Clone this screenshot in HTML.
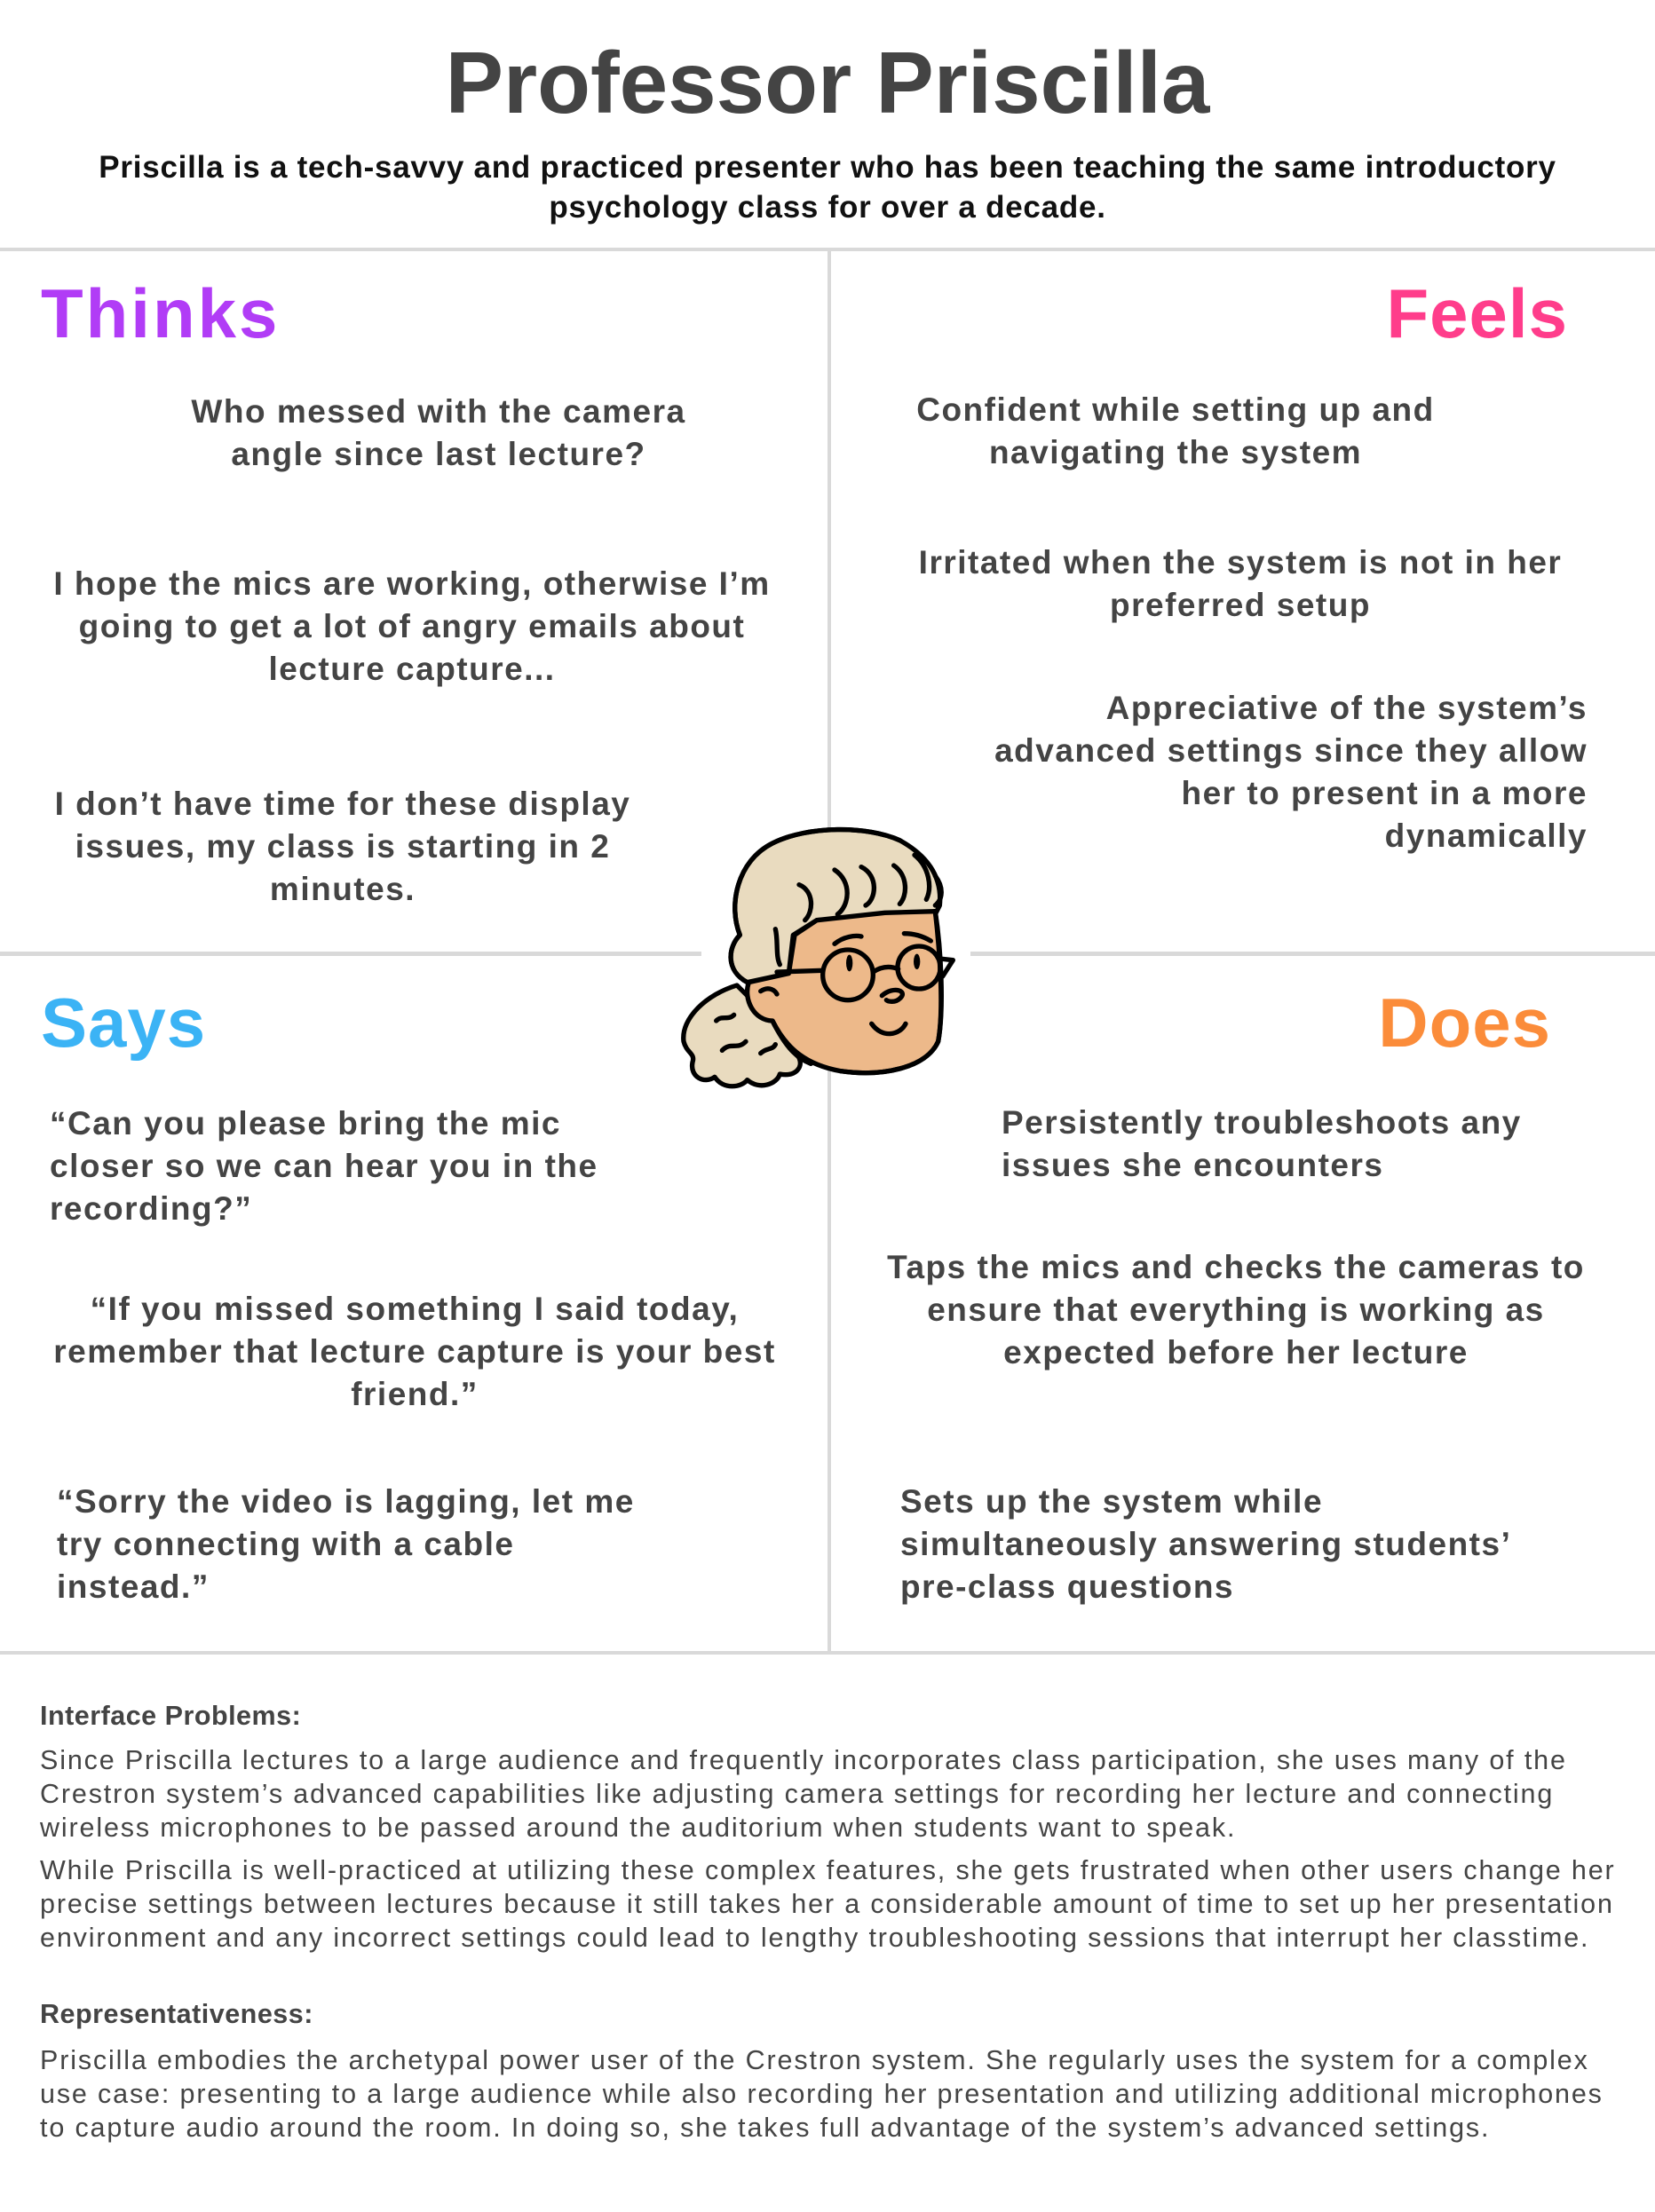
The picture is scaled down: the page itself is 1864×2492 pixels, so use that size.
<!DOCTYPE html>
<html><head><meta charset="utf-8"><style>
html,body{margin:0;padding:0;background:#fff;}
body{width:1864px;height:2492px;position:relative;overflow:hidden;font-family:"Liberation Sans",sans-serif;color:#444;}
.a{position:absolute;white-space:nowrap;}
.t{font-weight:bold;font-size:37px;line-height:48px;color:#444;letter-spacing:1.5px;}
.c{text-align:center;transform:translateX(-50%);}
.r{text-align:right;transform:translateX(-100%);}
.h{font-weight:bold;font-size:78px;line-height:90px;letter-spacing:1px;}
.ln{position:absolute;background:#d9d9d9;}
.p{font-size:30.5px;line-height:38px;color:#444;left:45px;letter-spacing:1.85px;}
</style></head><body>
<div class="a c" style="left:932px;top:38px;font-size:98px;line-height:110px;font-weight:bold;color:#444;">Professor Priscilla</div>
<div class="a c" style="left:932px;top:166px;font-size:35px;line-height:45px;font-weight:bold;color:#111;letter-spacing:0.75px;">Priscilla is a tech-savvy and practiced presenter who has been teaching the same introductory<br>psychology class for over a decade.</div>

<div class="ln" style="left:0;top:279px;width:1864px;height:4px;"></div>
<div class="ln" style="left:932px;top:281px;width:4px;height:1582px;"></div>
<div class="ln" style="left:0;top:1072px;width:790px;height:5px;"></div>
<div class="ln" style="left:1093px;top:1072px;width:771px;height:5px;"></div>
<div class="ln" style="left:0;top:1860px;width:1864px;height:4px;"></div>

<div class="a h" style="left:46px;top:308px;color:#b13cf6;letter-spacing:3px;">Thinks</div>
<div class="a h r" style="left:1766px;top:308px;color:#ff3d8b;">Feels</div>
<div class="a h" style="left:46px;top:1107px;color:#3bb3f5;">Says</div>
<div class="a h r" style="left:1747px;top:1107px;color:#fb8c3a;">Does</div>

<div class="a t c" style="left:494px;top:440px;">Who messed with the camera<br>angle since last lecture?</div>
<div class="a t c" style="left:464px;top:634px;">I hope the mics are working, otherwise I’m<br>going to get a lot of angry emails about<br>lecture capture...</div>
<div class="a t c" style="left:386px;top:882px;">I don’t have time for these display<br>issues, my class is starting in 2<br>minutes.</div>

<div class="a t c" style="left:1324px;top:438px;">Confident while setting up and<br>navigating the system</div>
<div class="a t c" style="left:1397px;top:610px;">Irritated when the system is not in her<br>preferred setup</div>
<div class="a t r" style="left:1788px;top:774px;">Appreciative of the system’s<br>advanced settings since they allow<br>her to present in a more<br>dynamically</div>

<div class="a t" style="left:56px;top:1242px;">“Can you please bring the mic<br>closer so we can hear you in the<br>recording?”</div>
<div class="a t c" style="left:467px;top:1451px;">“If you missed something I said today,<br>remember that lecture capture is your best<br>friend.”</div>
<div class="a t" style="left:64px;top:1668px;">“Sorry the video is lagging, let me<br>try connecting with a cable<br>instead.”</div>

<div class="a t" style="left:1128px;top:1241px;">Persistently troubleshoots any<br>issues she encounters</div>
<div class="a t c" style="left:1392px;top:1404px;">Taps the mics and checks the cameras to<br>ensure that everything is working as<br>expected before her lecture</div>
<div class="a t" style="left:1014px;top:1668px;">Sets up the system while<br>simultaneously answering students’<br>pre-class questions</div>

<div class="a p" style="top:1914px;font-weight:bold;letter-spacing:0.5px;">Interface Problems:</div>
<div class="a p" style="top:1964px;">Since Priscilla lectures to a large audience and frequently incorporates class participation, she uses many of the<br>Crestron system’s advanced capabilities like adjusting camera settings for recording her lecture and connecting<br>wireless microphones to be passed around the auditorium when students want to speak.</div>
<div class="a p" style="top:2088px;">While Priscilla is well-practiced at utilizing these complex features, she gets frustrated when other users change her<br>precise settings between lectures because it still takes her a considerable amount of time to set up her presentation<br>environment and any incorrect settings could lead to lengthy troubleshooting sessions that interrupt her classtime.</div>
<div class="a p" style="top:2250px;font-weight:bold;letter-spacing:0.5px;">Representativeness:</div>
<div class="a p" style="top:2302px;">Priscilla embodies the archetypal power user of the Crestron system. She regularly uses the system for a complex<br>use case: presenting to a large audience while also recording her presentation and utilizing additional microphones<br>to capture audio around the room. In doing so, she takes full advantage of the system’s advanced settings.</div>

<svg style="position:absolute;left:760px;top:920px;" width="340" height="320" viewBox="0 0 1020 960">
<g stroke="#000" stroke-width="16" stroke-linecap="round" stroke-linejoin="round">
<path d="M210,570 C110,600 20,680 30,760 C40,800 70,800 60,830 C50,880 100,905 135,880 C165,925 225,915 245,890 C285,925 345,905 355,870 C405,880 435,850 420,815 L330,690 Z" fill="#e9dbbf"/>
<path d="M245,560 C170,520 180,440 220,400 C180,300 210,150 330,90 C450,30 650,30 760,80 C850,130 905,200 895,300 L880,330 L480,350 L400,400 L385,530 Z" fill="#e9dbbf"/>
<path d="M250,560 C230,620 270,690 330,690 C380,790 450,840 560,860 C700,880 850,850 890,760 C910,650 895,450 880,320 L710,325 L480,350 L405,400 L385,530 Z" fill="#edb98a"/>
<path d="M880,320 C900,450 910,650 890,760 C850,850 700,880 560,860" fill="none"/>
<path d="M330,690 C380,790 420,820 460,835" fill="none"/>
<path d="M245,560 C170,520 180,440 220,400 C180,300 210,150 330,90 C450,30 650,30 760,80" fill="none"/>
<path d="M340,380 C350,420 340,470 355,500" fill="none"/>
<path d="M290,590 C320,570 340,590 345,600" fill="none"/>
<path d="M140,690 C160,670 180,690 200,670 M160,790 C190,760 210,790 240,760 M290,800 C310,780 330,790 340,770" fill="none"/>
<path d="M420,230 C470,250 470,320 440,350 M540,180 C600,220 590,300 550,330 M630,170 C690,200 680,280 645,300 M740,165 C790,200 785,270 760,295 M810,130 C860,170 870,240 850,280 M880,200 C910,240 905,280 880,300" fill="none"/>
<circle cx="585" cy="535" r="85" fill="none"/>
<circle cx="825" cy="510" r="72" fill="none"/>
<path d="M670,525 C700,505 730,505 755,515 M500,520 L345,525 M895,480 L940,485 L905,540" fill="none"/>
<path d="M540,430 C570,405 610,400 630,405 M775,395 C810,395 840,405 865,420" fill="none"/>
<path d="M700,605 C740,570 790,590 760,615 C745,630 720,625 715,620" fill="none"/>
<path d="M665,700 C700,750 760,740 780,700" fill="none"/>
</g>
<ellipse cx="590" cy="495" rx="11" ry="28" fill="#000"/>
<ellipse cx="818" cy="490" rx="11" ry="26" fill="#000"/>
</svg>
</body></html>
